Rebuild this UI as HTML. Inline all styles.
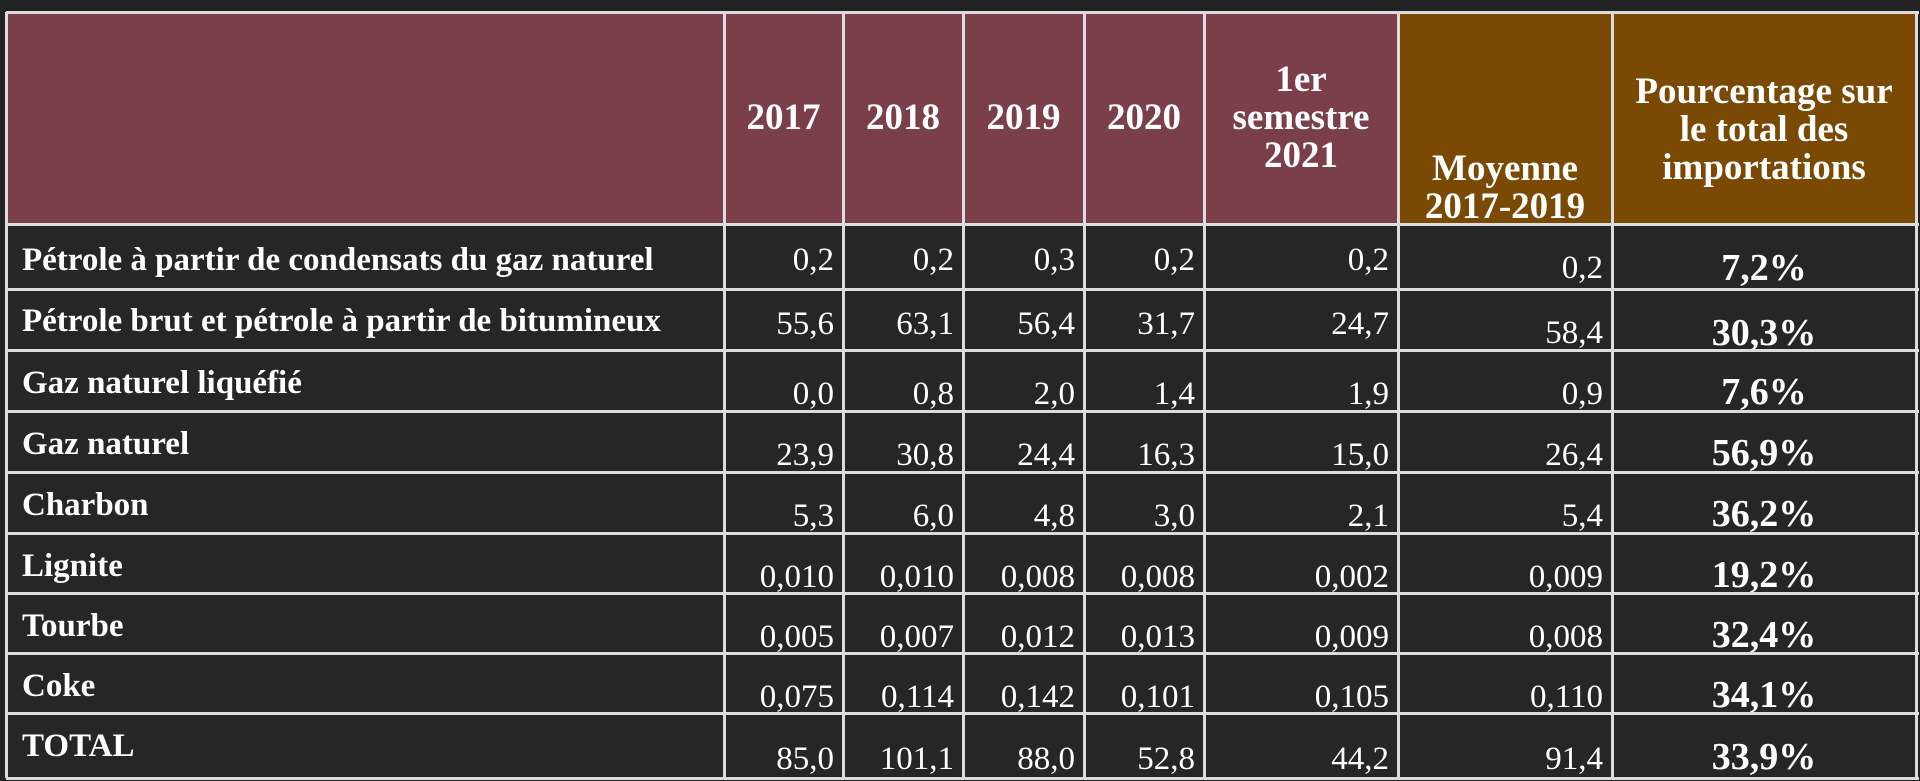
<!DOCTYPE html>
<html><head><meta charset="utf-8"><style>
html,body{margin:0;padding:0;background:#222;width:1920px;height:781px;overflow:hidden;position:relative;font-family:"Liberation Serif",serif;color:#fff}
.bg{position:absolute}
.v{position:absolute;top:12px;height:766px;width:3px;background:#dcdcdc}
.h{position:absolute;left:6px;width:1913px;height:3px;background:#dcdcdc}
.t{position:absolute;height:40px;line-height:40px;white-space:nowrap;font-size:33px}
.l{left:22px;font-weight:bold}
.p{left:1612px;width:304px;text-align:center;font-weight:bold;font-size:38px}
.hd{position:absolute;text-align:center;font-weight:bold;font-size:37px;line-height:38px;white-space:nowrap}
.c1{right:1086px}.c2{right:966px}.c3{right:845px}.c4{right:725px}.c5{right:531px}.c6{right:317px}
</style></head><body>
<div class="bg" style="left:6px;top:12px;width:1392px;height:212px;background:#7b3f4a"></div>
<div class="bg" style="left:1398px;top:12px;width:520px;height:212px;background:#7a4a05"></div>
<div class="bg" style="left:6px;top:224px;width:1912px;height:554px;background:#262626"></div>

<div class="hd" style="left:724px;width:119px;top:99px">2017</div>
<div class="hd" style="left:843px;width:120px;top:99px">2018</div>
<div class="hd" style="left:963px;width:121px;top:99px">2019</div>
<div class="hd" style="left:1084px;width:120px;top:99px">2020</div>
<div class="hd" style="left:1204px;width:194px;top:61px">1er<br>semestre<br>2021</div>
<div class="hd" style="left:1398px;width:214px;top:150px">Moyenne<br>2017-2019</div>
<div class="hd" style="left:1612px;width:304px;top:73px;line-height:38px">Pourcentage sur<br>le total des<br>importations</div>

<!-- row 1 -->
<div class="t l" style="top:240px">Pétrole à partir de condensats du gaz naturel</div>
<div class="t c1" style="top:240px">0,2</div><div class="t c2" style="top:240px">0,2</div><div class="t c3" style="top:240px">0,3</div><div class="t c4" style="top:240px">0,2</div><div class="t c5" style="top:240px">0,2</div><div class="t c6" style="top:248px">0,2</div><div class="t p" style="top:248px">7,2%</div>
<!-- row 2 -->
<div class="t l" style="top:301px">Pétrole brut et pétrole à partir de bitumineux</div>
<div class="t c1" style="top:304px">55,6</div><div class="t c2" style="top:304px">63,1</div><div class="t c3" style="top:304px">56,4</div><div class="t c4" style="top:304px">31,7</div><div class="t c5" style="top:304px">24,7</div><div class="t c6" style="top:313px">58,4</div><div class="t p" style="top:313px">30,3%</div>
<!-- row 3 -->
<div class="t l" style="top:363px">Gaz naturel liquéfié</div>
<div class="t c1" style="top:374px">0,0</div><div class="t c2" style="top:374px">0,8</div><div class="t c3" style="top:374px">2,0</div><div class="t c4" style="top:374px">1,4</div><div class="t c5" style="top:374px">1,9</div><div class="t c6" style="top:374px">0,9</div><div class="t p" style="top:372px">7,6%</div>
<!-- row 4 -->
<div class="t l" style="top:424px">Gaz naturel</div>
<div class="t c1" style="top:435px">23,9</div><div class="t c2" style="top:435px">30,8</div><div class="t c3" style="top:435px">24,4</div><div class="t c4" style="top:435px">16,3</div><div class="t c5" style="top:435px">15,0</div><div class="t c6" style="top:435px">26,4</div><div class="t p" style="top:433px">56,9%</div>
<!-- row 5 -->
<div class="t l" style="top:485px">Charbon</div>
<div class="t c1" style="top:496px">5,3</div><div class="t c2" style="top:496px">6,0</div><div class="t c3" style="top:496px">4,8</div><div class="t c4" style="top:496px">3,0</div><div class="t c5" style="top:496px">2,1</div><div class="t c6" style="top:496px">5,4</div><div class="t p" style="top:494px">36,2%</div>
<!-- row 6 -->
<div class="t l" style="top:546px">Lignite</div>
<div class="t c1" style="top:557px">0,010</div><div class="t c2" style="top:557px">0,010</div><div class="t c3" style="top:557px">0,008</div><div class="t c4" style="top:557px">0,008</div><div class="t c5" style="top:557px">0,002</div><div class="t c6" style="top:557px">0,009</div><div class="t p" style="top:555px">19,2%</div>
<!-- row 7 -->
<div class="t l" style="top:606px">Tourbe</div>
<div class="t c1" style="top:617px">0,005</div><div class="t c2" style="top:617px">0,007</div><div class="t c3" style="top:617px">0,012</div><div class="t c4" style="top:617px">0,013</div><div class="t c5" style="top:617px">0,009</div><div class="t c6" style="top:617px">0,008</div><div class="t p" style="top:615px">32,4%</div>
<!-- row 8 -->
<div class="t l" style="top:666px">Coke</div>
<div class="t c1" style="top:677px">0,075</div><div class="t c2" style="top:677px">0,114</div><div class="t c3" style="top:677px">0,142</div><div class="t c4" style="top:677px">0,101</div><div class="t c5" style="top:677px">0,105</div><div class="t c6" style="top:677px">0,110</div><div class="t p" style="top:675px">34,1%</div>
<!-- row 9 -->
<div class="t l" style="top:726px">TOTAL</div>
<div class="t c1" style="top:739px">85,0</div><div class="t c2" style="top:739px">101,1</div><div class="t c3" style="top:739px">88,0</div><div class="t c4" style="top:739px">52,8</div><div class="t c5" style="top:739px">44,2</div><div class="t c6" style="top:739px">91,4</div><div class="t p" style="top:737px">33,9%</div>

<!-- grid -->
<div class="v" style="left:5px"></div>
<div class="v" style="left:723px"></div>
<div class="v" style="left:842px"></div>
<div class="v" style="left:962px"></div>
<div class="v" style="left:1083px"></div>
<div class="v" style="left:1203px"></div>
<div class="v" style="left:1397px"></div>
<div class="v" style="left:1611px"></div>
<div class="v" style="left:1915px"></div>
<div class="h" style="top:11px"></div>
<div class="h" style="top:223px"></div>
<div class="h" style="top:288px"></div>
<div class="h" style="top:349px"></div>
<div class="h" style="top:410px"></div>
<div class="h" style="top:471px"></div>
<div class="h" style="top:532px"></div>
<div class="h" style="top:592px"></div>
<div class="h" style="top:652px"></div>
<div class="h" style="top:712px"></div>
<div class="h" style="top:777px"></div>
</body></html>
